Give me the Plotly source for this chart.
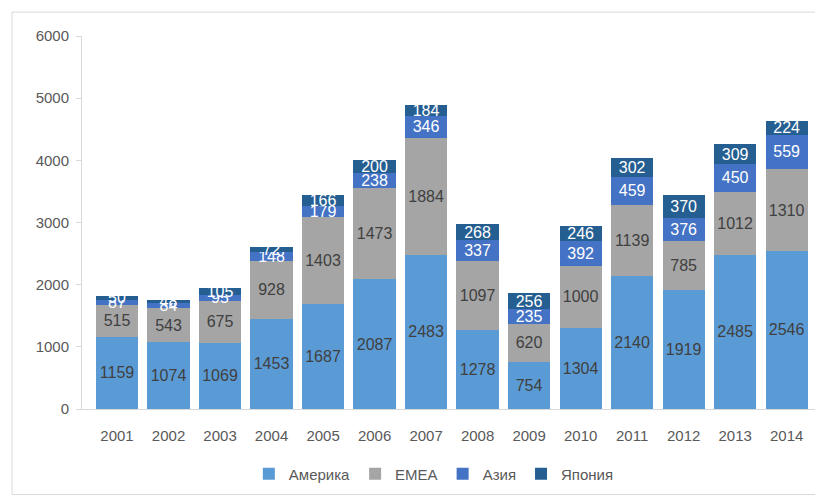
import plotly.graph_objects as go

years = ["2001", "2002", "2003", "2004", "2005", "2006", "2007",
         "2008", "2009", "2010", "2011", "2012", "2013", "2014"]
america = [1159, 1074, 1069, 1453, 1687, 2087, 2483, 1278, 754, 1304, 2140, 1919, 2485, 2546]
emea = [515, 543, 675, 928, 1403, 1473, 1884, 1097, 620, 1000, 1139, 785, 1012, 1310]
asia = [87, 84, 95, 148, 179, 238, 346, 337, 235, 392, 459, 376, 450, 559]
japan = [50, 48, 105, 72, 166, 200, 184, 268, 256, 246, 302, 370, 309, 224]

series = [
    ("Америка", america, "#5B9BD5", "#404040"),
    ("EMEA", emea, "#A5A5A5", "#404040"),
    ("Азия", asia, "#4472C4", "#FFFFFF"),
    ("Япония", japan, "#255E91", "#FFFFFF"),
]

fig = go.Figure()
for name, vals, color, tcolor in series:
    fig.add_trace(go.Bar(
        x=years, y=vals, name=name,
        marker=dict(color=color, line=dict(width=0)),
        text=[str(v) for v in vals],
        textposition="inside",
        insidetextanchor="middle",
        textangle=0,
        constraintext="none",
        textfont=dict(color=tcolor, size=16, family="Liberation Sans, Arial"),
    ))

# the page body adds an 8px offset, so the figure is drawn 8px smaller
W, H = 815, 491
L, R, T, B = 74, 8, 28, 88
pw = W - L - R
ph = H - T - B

fig.update_layout(
    width=W, height=H,
    barmode="stack",
    bargap=0.18,
    margin=dict(l=L, r=R, t=T, b=B),
    paper_bgcolor="white",
    plot_bgcolor="white",
    font=dict(family="Liberation Sans, Arial", color="#595959", size=15),
    uniformtext=dict(minsize=16, mode="show"),
    showlegend=True,
    legend=dict(orientation="h", x=0.48, xanchor="center", y=-0.13, yanchor="top",
                font=dict(size=15, color="#595959"),
                traceorder="normal"),
    xaxis=dict(range=[-0.68, 13.55], showgrid=False, showline=True,
               linecolor="#D9D9D9", linewidth=1, ticks="",
               ticklabelstandoff=13,
               tickfont=dict(size=15, color="#595959")),
    yaxis=dict(range=[0, 6000], dtick=1000, showgrid=False, showline=True,
               linecolor="#D9D9D9", linewidth=1, ticks="outside",
               tickcolor="#D9D9D9", ticklen=5, ticklabelstandoff=4,
               tickfont=dict(size=15, color="#595959"), zeroline=False),
    shapes=[dict(type="rect", xref="paper", yref="paper",
                 x0=(4 - L) / pw, x1=(W - 1 - L) / pw,
                 y0=-(H - 2 - T - ph) / ph,
                 y1=1 + (T - 4) / ph,
                 line=dict(color="#D9D9D9", width=1), fillcolor="rgba(0,0,0,0)",
                 layer="below")],
)

fig.write_html("out.html")
